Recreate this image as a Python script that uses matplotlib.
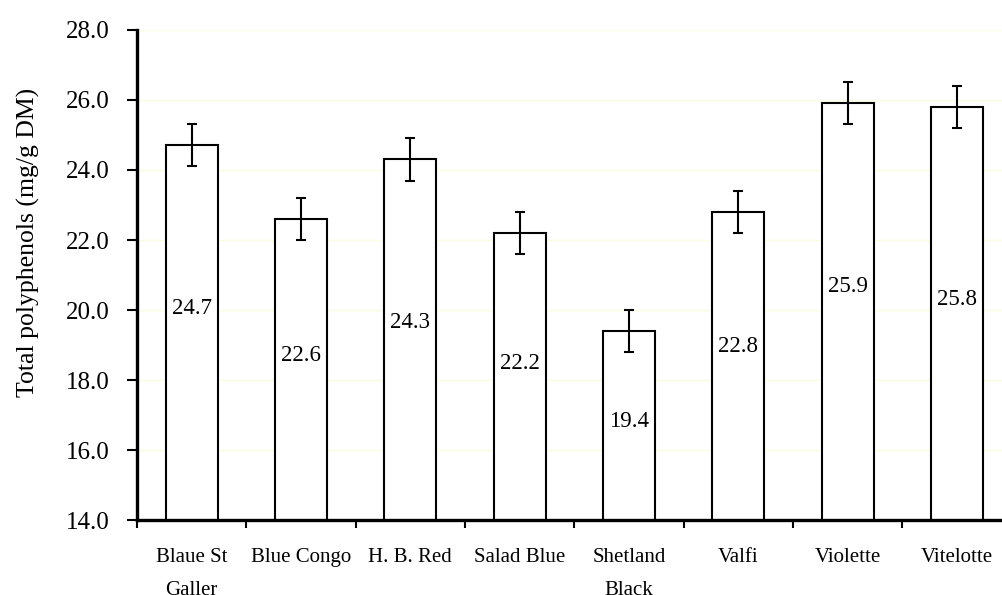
import matplotlib.pyplot as plt
import numpy as np

plt.rcParams['font.family'] = ['Liberation Serif', 'DejaVu Serif']

cultivars = ['Blaue St\nGaller', 'Blue Congo', 'H. B. Red', 'Salad Blue',
             'Shetland\nBlack', 'Valfi', 'Violette', 'Vitelotte']
polyphenols = [24.7, 22.6, 24.3, 22.2, 19.4, 22.8, 25.9, 25.8]
errors = [0.6, 0.6, 0.6, 0.6, 0.6, 0.6, 0.6, 0.6]
# height of the value labels inside the bars
label_y = [20.03, 18.71, 19.65, 18.48, 16.81, 18.97, 20.67, 20.31]
yticks = np.arange(14.0, 28.1, 2.0)

fig = plt.figure(figsize=(10.02, 5.95), dpi=100)
ax = fig.add_axes([0.1367, 0.126, 0.873, 0.8236])

x = np.arange(len(cultivars))
ax.bar(x, polyphenols, width=0.475, color='white', edgecolor='black',
       linewidth=1.5, zorder=3)
ax.errorbar(x, polyphenols, yerr=errors, fmt='none', ecolor='black',
            elinewidth=1.5, capsize=3.3, capthick=1.5, zorder=4)

for xi, v, ly in zip(x, polyphenols, label_y):
    ax.text(xi, ly, f'{v:.1f}', ha='center', va='center', fontsize=16.5, zorder=5)

ax.set_ylim(14, 28)
ax.set_xlim(-0.5, len(cultivars) - 0.5)
ax.set_yticks(yticks)
ax.set_yticklabels([f'{t:.1f}' for t in yticks], fontsize=18)
ax.yaxis.grid(True, color='#fcfce4', linewidth=1.0, zorder=0)

ax.set_xticks(x)
ax.set_xticklabels(cultivars, fontsize=15, linespacing=2.0)
ax.set_xticks(np.arange(-0.5, len(cultivars), 1.0), minor=True)
ax.tick_params(axis='x', which='major', length=0, pad=20)
ax.tick_params(axis='x', which='minor', length=6, width=1.5, direction='out')
ax.tick_params(axis='y', length=7, width=1.5, direction='out', pad=13)

for side in ['top', 'right']:
    ax.spines[side].set_visible(False)
for side in ['left', 'bottom']:
    ax.spines[side].set_linewidth(2.4)
    ax.spines[side].set_zorder(6)

fig.text(0.028, 0.593, 'Total polyphenols (mg/g DM)', rotation=90,
         ha='center', va='center', fontsize=18.5)

fig.savefig('out.png', dpi=100)
